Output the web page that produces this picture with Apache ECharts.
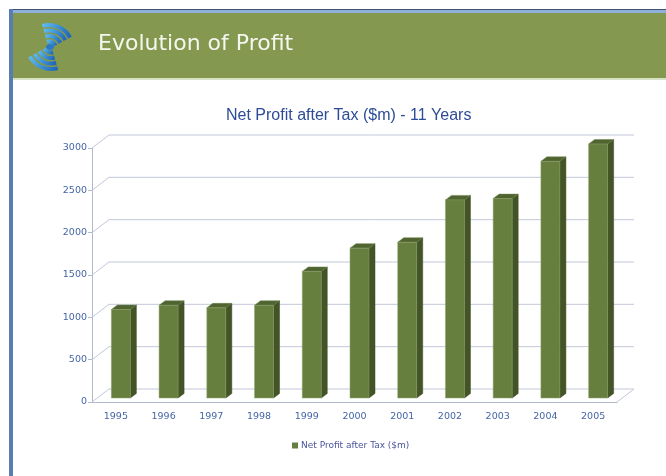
<!DOCTYPE html>
<html>
<head>
<meta charset="utf-8">
<title>Evolution of Profit</title>
<script src="https://cdn.jsdelivr.net/npm/echarts@6/dist/echarts.min.js"></script>
<style>
  html, body { margin: 0; padding: 0; background: #fff; }
  #chart { width: 666px; height: 476px; }
</style>
</head>
<body>
<div id="chart"></div>
<script>
// values
var years = ['1995', '1996', '1997', '1998', '1999', '2000', '2001', '2002', '2003', '2004', '2005'];
var profit = [1045, 1095, 1065, 1095, 1495, 1770, 1840, 2340, 2355, 2795, 3000];
var yTicks = [0, 500, 1000, 1500, 2000, 2500, 3000];
var seriesName = 'Net Profit after Tax ($m)';

// 3d look
var wallDx = 17, wallDy = -13;   // back wall offset
var barDx = 5, barDy = -4;       // where the bar sits in the depth
var barW = 19, sideDx = 6, sideDy = -4.5;

var chart = echarts.init(document.getElementById('chart'));

function renderWall(params, api) {
  var cs = params.coordSys;
  var p = api.coord([0, api.value(1)]);
  var x0 = cs.x, x1 = cs.x + cs.width, y = p[1];
  var st = { stroke: '#c3c8da', lineWidth: 1, fill: null };
  var kids = [{
    type: 'polyline',
    shape: { points: [[x0, y], [x0 + wallDx, y + wallDy], [x1 + wallDx, y + wallDy]] },
    style: st
  }];
  if (api.value(1) === 0) {
    kids.push({ type: 'line', shape: { x1: x1, y1: y, x2: x1 + wallDx, y2: y + wallDy }, style: st });
  }
  return { type: 'group', children: kids };
}

function renderBar(params, api) {
  var i = api.value(0);
  var p0 = api.coord([i, 0]);
  var p1 = api.coord([i, api.value(1)]);
  var cx = p0[0] + barDx;
  var l = cx - barW / 2, r = cx + barW / 2;
  var yb = p0[1] + barDy, yt = p1[1] + barDy;
  return {
    type: 'group',
    children: [
      { type: 'polygon', shape: { points: [[r, yb], [r + sideDx, yb + sideDy], [r + sideDx, yt + sideDy], [r, yt]] },
        style: { fill: '#435427', stroke: '#3a4a20', lineWidth: 0.5 } },
      { type: 'polygon', shape: { points: [[l, yt], [l + sideDx, yt + sideDy], [r + sideDx, yt + sideDy], [r, yt]] },
        style: { fill: '#4f6431', stroke: '#6d8548', lineWidth: 0.5 } },
      { type: 'rect', shape: { x: l, y: yt, width: barW, height: yb - yt },
        style: { fill: '#667f3e', stroke: '#8ea06a', lineWidth: 0.5 } }
    ]
  };
}

// logo: two fans of blue arcs
var blue = new echarts.graphic.LinearGradient(0, 0, 1, 1, [
  { offset: 0, color: '#62c0f0' }, { offset: 1, color: '#1a5fb4' }
]);
var logo = [{ type: 'ellipse', shape: { cx: 50, cy: 47, rx: 4, ry: 3 }, style: { fill: '#2a78c8' } }];
var rings = [[5.5, 9.5], [11, 15], [16.5, 20.5], [22, 26]];
rings.forEach(function (rr) {
  logo.push({ type: 'sector', shape: { cx: 49, cy: 49, r0: rr[0], r: rr[1], startAngle: -1.85, endAngle: -0.5 }, style: { fill: blue } });
  logo.push({ type: 'sector', shape: { cx: 51, cy: 45, r0: rr[0], r: rr[1], startAngle: 1.29, endAngle: 2.64 }, style: { fill: blue } });
});

var option = {
  animation: false,
  backgroundColor: '#ffffff',
  title: {
    text: 'Net Profit after Tax ($m) - 11 Years',
    left: 221, top: 103,
    textStyle: { fontFamily: 'Liberation Sans', fontSize: 16, fontWeight: 'normal', color: '#2d4c97' }
  },
  graphic: [
    { type: 'rect', shape: { x: 10, y: 9, width: 656, height: 1 }, style: { fill: '#3f5270' } },
    { type: 'rect', shape: { x: 10, y: 10, width: 656, height: 3 }, style: { fill: '#8fb0da' } },
    { type: 'rect', shape: { x: 9, y: 9, width: 4, height: 467 }, style: { fill: '#587db0' } },
    { type: 'rect', shape: { x: 13, y: 13, width: 653, height: 65 }, style: { fill: '#84984f' } },
    { type: 'rect', shape: { x: 13, y: 78, width: 653, height: 2 }, style: { fill: '#d7e1c3' } },
    { type: 'group', children: logo },
    { type: 'text', left: 98, top: 33,
      style: { text: 'Evolution of Profit', fill: '#f5f7ef', fontFamily: 'DejaVu Sans', fontSize: 22 } }
  ],
  legend: {
    data: [seriesName],
    left: 287, top: 436,
    icon: 'rect', itemWidth: 6, itemHeight: 6, itemGap: 4,
    textStyle: { fontFamily: 'DejaVu Sans', fontSize: 9, color: '#4b559c', padding: [0, 0, 0, -2] }
  },
  grid: { left: 92, right: 49, top: 148, bottom: 74 },
  xAxis: {
    type: 'category',
    data: years,
    axisLine: { lineStyle: { color: '#b1b8cd' } },
    axisTick: { length: 4, lineStyle: { color: '#b1b8cd' } },
    axisLabel: { margin: 10, fontFamily: 'DejaVu Sans', fontSize: 9.5, color: '#4465a6' },
    splitLine: { show: false }
  },
  yAxis: {
    type: 'value',
    min: 0, max: 3000, interval: 500,
    axisLine: { show: true, lineStyle: { color: '#b1b8cd' } },
    axisTick: { show: true, length: 4, lineStyle: { color: '#b1b8cd' } },
    axisLabel: { margin: 5, fontFamily: 'DejaVu Sans', fontSize: 9.5, color: '#4465a6',
      formatter: function (v) { return String(v); } },
    splitLine: { show: false }
  },
  series: [
    {
      type: 'custom',
      name: 'wall',
      silent: true,
      z: 1,
      renderItem: renderWall,
      encode: { x: 0, y: 1 },
      data: yTicks.map(function (v) { return [0, v]; })
    },
    {
      type: 'custom',
      name: seriesName,
      z: 3,
      itemStyle: { color: '#667f3e' },
      renderItem: renderBar,
      encode: { x: 0, y: 1 },
      data: profit.map(function (v, i) { return [i, v]; })
    }
  ]
};

chart.setOption(option);
</script>
</body>
</html>
